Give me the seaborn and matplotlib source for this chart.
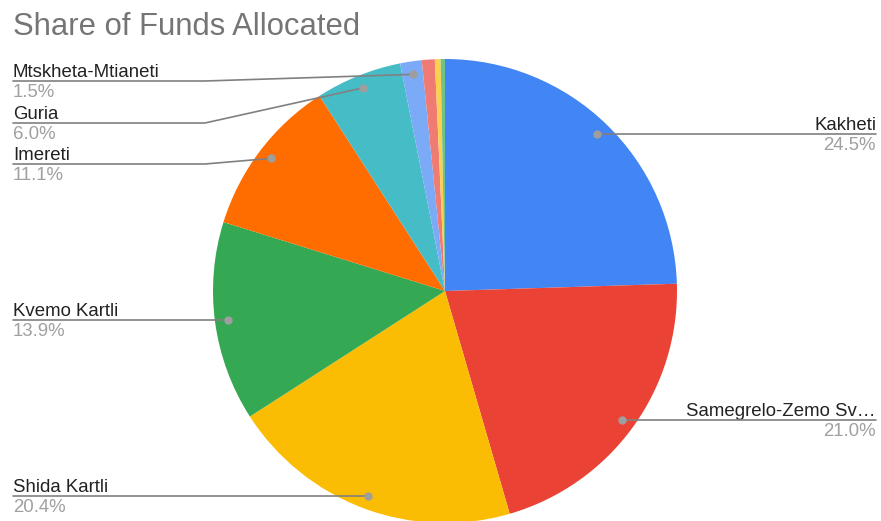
import numpy as np
import matplotlib
matplotlib.use("Agg")
import matplotlib.pyplot as plt
import seaborn as sns

# ---- data ----
regions = ["Kakheti", "Samegrelo-Zemo Svaneti", "Shida Kartli", "Kvemo Kartli",
           "Imereti", "Guria", "Mtskheta-Mtianeti", "Racha-Lechkhumi",
           "Samtskhe-Javakheti", "Adjara"]
display_names = ["Kakheti", "Samegrelo-Zemo Sv…", "Shida Kartli", "Kvemo Kartli",
                 "Imereti", "Guria", "Mtskheta-Mtianeti", None, None, None]
shares = [24.5, 21.0, 20.4, 13.9, 11.1, 6.0, 1.5, 0.9, 0.4, 0.3]
colors = ["#4285F4", "#EA4335", "#FBBC04", "#34A853", "#FF6D01",
          "#46BDC6", "#7BAAF7", "#F07B72", "#FCD04F", "#71C287"]

sns.set_style("white")
plt.rcParams['font.family'] = ['Liberation Sans', 'DejaVu Sans']

W, H = 881, 521
fig = plt.figure(figsize=(W / 100, H / 100), dpi=100)
ax = fig.add_axes([0, 0, 1, 1])
ax.set_xlim(0, W)
ax.set_ylim(0, H)
ax.set_aspect('equal')
ax.axis('off')

def Y(py):
    return H - py

cx, cy, R = 445, Y(291), 232
wedges, _ = ax.pie(shares, colors=colors, startangle=90, counterclock=False,
                   center=(cx, cy), radius=R, frame=True,
                   wedgeprops=dict(linewidth=0, edgecolor='none'))
ax.set_xlim(0, W)
ax.set_ylim(0, H)
ax.axis('off')

line_col = "#808080"
dot_col = "#9e9e9e"
name_col = "#222222"
pct_col = "#a0a0a0"
fs = 13.4

# label layout: index -> (side, elbow line y in px or None for straight)
layout = {
    0: ("right", None),
    1: ("right", None),
    2: ("left", None),
    3: ("left", None),
    4: ("left", 164),
    5: ("left", 123),
    6: ("left", 81),
}
rd = 219
for i, (side, ly) in layout.items():
    w = wedges[i]
    mid = np.deg2rad((w.theta1 + w.theta2) / 2)
    dx = cx + rd * np.cos(mid)
    dy = cy + rd * np.sin(mid)
    ax.plot(dx, dy, 'o', color=dot_col, ms=5, zorder=5)
    if side == "right":
        yl = dy
        ax.plot([dx, 876], [yl, yl], color=line_col, lw=1.2, zorder=4)
        ax.text(876, yl + 4, display_names[i], ha='right', va='baseline',
                fontsize=fs, color=name_col)
        ax.text(876, yl - 3, f"{shares[i]:.1f}%", ha='right', va='top',
                fontsize=fs, color=pct_col)
    else:
        if ly is None:
            yl = dy
            ax.plot([13, dx], [yl, yl], color=line_col, lw=1.2, zorder=4)
        else:
            yl = Y(ly)
            ax.plot([13, 205, dx], [yl, yl, dy], color=line_col, lw=1.2, zorder=4)
        ax.text(13, yl + 4, display_names[i], ha='left', va='baseline',
                fontsize=fs, color=name_col)
        ax.text(13, yl - 3, f"{shares[i]:.1f}%", ha='left', va='top',
                fontsize=fs, color=pct_col)

ax.text(13, Y(35), "Share of Funds Allocated", ha='left', va='baseline',
        fontsize=22.3, color="#757575")

fig.savefig("out.png", dpi=100)
